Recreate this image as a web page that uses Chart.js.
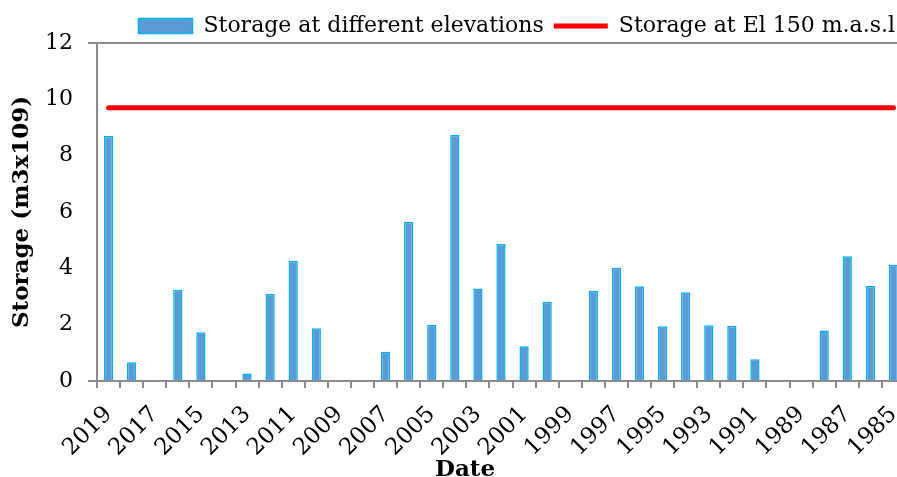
<!DOCTYPE html>
<html>
<head>
<meta charset="utf-8">
<script src="https://cdn.jsdelivr.net/npm/chart.js@4.4.0/dist/chart.umd.min.js"></script>
<style>
  body { margin: 0; overflow: hidden; background: #fff; }
  #wrap { position: absolute; left: 0; top: 0; width: 905px; height: 477px; }
</style>
</head>
<body>
<div id="wrap"><canvas id="storageChart"></canvas></div>
<script>
// years, newest first as in the original figure
const years = ['2019', '2018', '2017', '2016', '2015', '2014', '2013', '2012', '2011', '2010',
               '2009', '2008', '2007', '2006', '2005', '2004', '2003', '2002', '2001', '2000',
               '1999', '1998', '1997', '1996', '1995', '1994', '1993', '1992', '1991', '1990',
               '1989', '1988', '1987', '1986', '1985'];

// storage (m3 x 10^9)
const storage = [8.7, 0.67, 0, 3.24, 1.73, 0, 0.27, 3.1, 4.27, 1.87,
                 0, 0, 1.04, 5.65, 2.0, 8.73, 3.28, 4.86, 1.23, 2.81,
                 0, 3.2, 4.02, 3.36, 1.94, 3.15, 1.98, 1.96, 0.77, 0,
                 0, 1.79, 4.43, 3.37, 4.13];

// storage at El 150 m.a.s.l (constant)
const storageEl150 = [9.7, 9.7, 9.7, 9.7, 9.7, 9.7, 9.7, 9.7, 9.7, 9.7,
                      9.7, 9.7, 9.7, 9.7, 9.7, 9.7, 9.7, 9.7, 9.7, 9.7,
                      9.7, 9.7, 9.7, 9.7, 9.7, 9.7, 9.7, 9.7, 9.7, 9.7,
                      9.7, 9.7, 9.7, 9.7, 9.7];

const yTicks = [0, 2, 4, 6, 8, 10, 12];

const axisGrey = '#8c8c8c';
const serif = "'DejaVu Serif', serif";

// keep legend band fixed so plot top lands where the original has it
const legendHeight = {
  id: 'legendHeight',
  afterInit(chart) {
    const fit = chart.legend.fit;
    chart.legend.fit = function () {
      fit.call(this);
      this.height = 38;
    };
  }
};

// x axis title sits a bit left of the plot centre and runs into the bottom edge
const dateTitle = {
  id: 'dateTitle',
  afterDraw(chart) {
    const c = chart.ctx;
    const area = chart.chartArea;
    c.save();
    c.font = 'bold 23px ' + serif;
    c.fillStyle = '#000';
    c.textAlign = 'center';
    c.textBaseline = 'alphabetic';
    c.fillText('Date', (area.left + area.right) / 2 - 36, chart.height - 1);
    c.restore();
  }
};

const ctx = document.getElementById('storageChart').getContext('2d');
const chart = new Chart(ctx, {
  type: 'bar',
  data: {
    labels: years,
    datasets: [
      {
        label: 'Storage at different elevations',
        data: storage,
        backgroundColor: '#5b9bd5',
        borderColor: '#00b0f0',
        borderWidth: 1.5,
        barPercentage: 0.4,
        categoryPercentage: 1,
        pointStyle: 'rect'
      },
      {
        type: 'line',
        label: 'Storage at El 150 m.a.s.l',
        data: storageEl150,
        borderColor: '#ff0000',
        backgroundColor: '#ff0000',
        borderWidth: 5,
        borderCapStyle: 'round',
        pointRadius: 0,
        pointStyle: 'line'
      }
    ]
  },
  options: {
    responsive: true,
    maintainAspectRatio: false,
    animation: false,
    layout: { padding: { top: 5 } },
    plugins: {
      tooltip: { enabled: false },
      legend: {
        position: 'top',
        fullSize: false,
        align: 'end',
        labels: {
          usePointStyle: true,
          pointStyleWidth: 54,
          boxHeight: 15,
          padding: 10,
          color: '#000',
          font: { family: serif, size: 22 }
        }
      }
    },
    scales: {
      x: {
        grid: {
          offset: true,
          drawOnChartArea: false,
          color: axisGrey,
          lineWidth: 2,
          tickLength: 7
        },
        border: { color: axisGrey, width: 2 },
        ticks: {
          autoSkip: false,
          maxRotation: 45,
          minRotation: 45,
          padding: 13,
          labelOffset: 0,
          color: '#000',
          font: { family: serif, size: 23 },
          callback: function (val, i) { return i % 2 === 0 ? this.getLabelForValue(val) : ''; }
        },
        afterFit(scale) {
          scale.height = 96;
          // plot runs to the right edge, no room kept for the rotated labels
          scale.paddingLeft = 0;
          scale.paddingRight = 0;
        }
      },
      y: {
        min: 0,
        max: 12,
        afterBuildTicks(scale) { scale.ticks = yTicks.map(v => ({ value: v })); },
        grid: {
          color: c => (c.tick && (c.tick.value === 12 || c.tick.value === 0)) ? axisGrey : 'rgba(0,0,0,0)',
          lineWidth: 2,
          tickLength: 9
        },
        border: { color: axisGrey, width: 2 },
        ticks: {
          padding: 15,
          color: '#000',
          font: { family: serif, size: 22 }
        },
        title: {
          display: true,
          text: 'Storage (m3x109)',
          color: '#000',
          padding: { top: 8, bottom: 0 },
          font: { family: serif, size: 23, weight: 'bold' }
        },
        afterFit(scale) { scale.width = 97; }
      }
    }
  },
  plugins: [legendHeight, dateTitle]
});
</script>
</body>
</html>
